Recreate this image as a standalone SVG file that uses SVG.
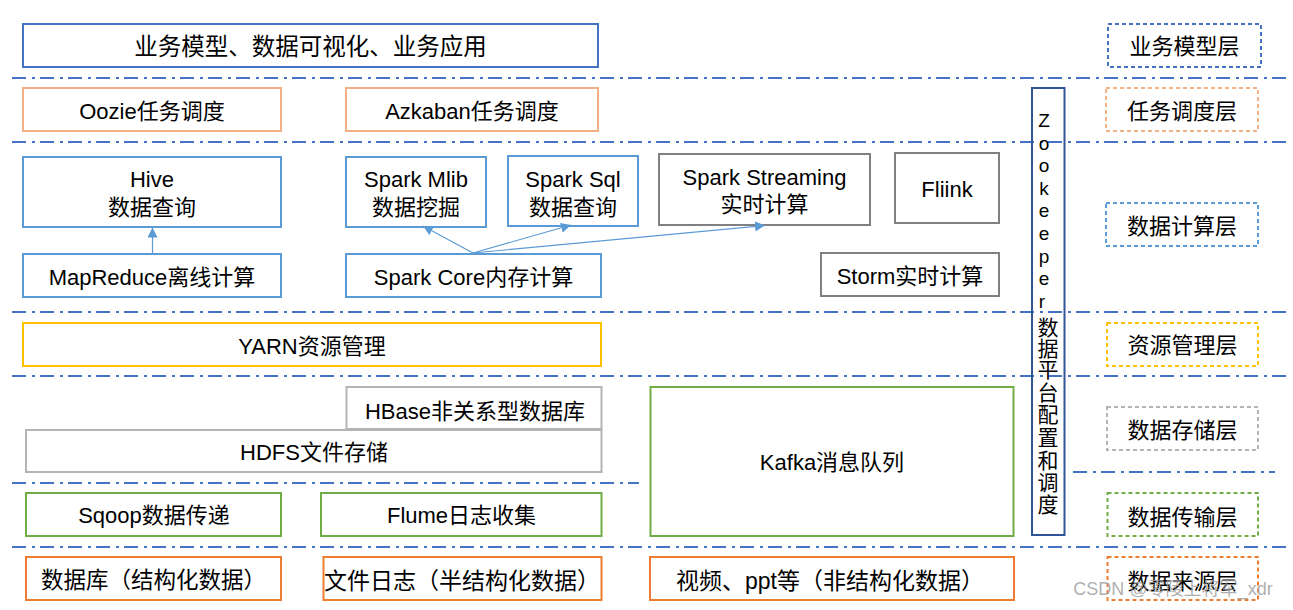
<svg xmlns="http://www.w3.org/2000/svg" width="1293" height="610" viewBox="0 0 1293 610">
<defs>
<style>
text{font-family:"Liberation Sans","Noto Sans CJK SC",sans-serif;font-size:22px;fill:#000;text-anchor:middle}
.box{fill:#fff;stroke-width:2}
.sep{stroke:#4472C4;stroke-width:2;stroke-dasharray:14 6 3 5;fill:none}
.layer{fill:#fff;stroke-width:2;stroke-dasharray:4 3}
.blue{stroke:#4472C4}.lblue{stroke:#5B9BD5}.peach{stroke:#F4B183}.gold{stroke:#FFC000}
.lgray{stroke:#B4B4B4}.dgray{stroke:#808080}.green{stroke:#70AD47}.orange{stroke:#ED7D31}
.conn{stroke:#5B9BD5;stroke-width:1.2;fill:none}
.zk{font-size:19px}
.zc{font-size:21px}
</style>
<marker id="arr" markerUnits="userSpaceOnUse" markerWidth="11" markerHeight="10" refX="10" refY="5" orient="auto">
<path d="M0,0 L10,5 L0,10 z" fill="#5B9BD5"/>
</marker>
</defs>
<rect width="1293" height="610" fill="#fff"/>
<g id="separators">
<line class="sep" x1="12" y1="78" x2="1287" y2="78"/>
<line class="sep" x1="12" y1="142" x2="1287" y2="142"/>
<line class="sep" x1="12" y1="312" x2="1287" y2="312"/>
<line class="sep" x1="12" y1="376" x2="1287" y2="376"/>
<line class="sep" x1="12" y1="483" x2="639" y2="483"/>
<line class="sep" x1="1073" y1="472" x2="1275" y2="472"/>
<line class="sep" x1="12" y1="547" x2="1287" y2="547"/>
</g>
<g id="n-top"><rect class="box blue" x="23" y="24" width="575" height="43"/><text x="310.5" y="55" style="font-size:23.5px">业务模型、数据可视化、业务应用</text></g>
<g id="n-oozie"><rect class="box peach" x="23" y="88" width="258" height="43"/><text x="152" y="118.5">Oozie任务调度</text></g>
<g id="n-azkaban"><rect class="box peach" x="346" y="88" width="252" height="43"/><text x="472" y="118.5">Azkaban任务调度</text></g>
<g id="n-hive"><rect class="box lblue" x="23" y="157" width="258" height="70"/><text x="152" y="187">Hive</text><text x="152" y="215">数据查询</text></g>
<g id="n-mapreduce"><rect class="box lblue" x="23" y="254" width="258" height="43"/><text x="152" y="284.5">MapReduce离线计算</text></g>
<g id="n-mlib"><rect class="box lblue" x="346" y="157" width="140" height="70"/><text x="416" y="187">Spark Mlib</text><text x="416" y="215">数据挖掘</text></g>
<g id="n-sql"><rect class="box lblue" x="508" y="156" width="130" height="70"/><text x="573" y="187">Spark Sql</text><text x="573" y="215">数据查询</text></g>
<g id="n-sparkcore"><rect class="box lblue" x="346" y="254" width="255" height="43"/><text x="473.5" y="284.5">Spark Core内存计算</text></g>
<g id="n-streaming"><rect class="box dgray" x="659" y="154" width="211" height="71"/><text x="764.5" y="184.5">Spark Streaming</text><text x="764.5" y="211.5">实时计算</text></g>
<g id="n-flink"><rect class="box dgray" x="895" y="153" width="104" height="70"/><text x="947" y="197">Fliink</text></g>
<g id="n-storm"><rect class="box dgray" x="821" y="253" width="178" height="43"/><text x="910" y="283.5">Storm实时计算</text></g>
<g id="n-yarn"><rect class="box gold" x="23" y="323" width="578" height="43"/><text x="312" y="353.5">YARN资源管理</text></g>
<g id="n-hbase"><rect class="box lgray" x="346.5" y="387" width="255" height="42"/><text x="475" y="418.5">HBase非关系型数据库</text></g>
<g id="n-hdfs"><rect class="box lgray" x="26" y="430" width="575.5" height="42"/><text x="314" y="460">HDFS文件存储</text></g>
<g id="n-sqoop"><rect class="box green" x="26" y="493" width="255" height="43"/><text x="154" y="522.5">Sqoop数据传递</text></g>
<g id="n-flume"><rect class="box green" x="321" y="493" width="280.5" height="43"/><text x="461.5" y="522.5">Flume日志收集</text></g>
<g id="n-kafka"><rect class="box green" x="650.5" y="387" width="363" height="149"/><text x="832" y="469.5">Kafka消息队列</text></g>
<g id="n-db"><rect class="box orange" x="26" y="557" width="255" height="43"/><text x="153.5" y="588" style="font-size:22.5px">数据库（结构化数据）</text></g>
<g id="n-filelog"><rect class="box orange" x="323.5" y="557" width="278" height="43"/><text x="462" y="588.5" style="font-size:23px">文件日志（半结构化数据）</text></g>
<g id="n-video"><rect class="box orange" x="650" y="557" width="364" height="43"/><text x="830" y="589" style="font-size:23px">视频、ppt等（非结构化数据）</text></g>
<g id="n-zookeeper">
<rect x="1032" y="88" width="32.5" height="447" fill="none" stroke="#2F5597" stroke-width="2"/>
<text class="zk" x="1044" y="127">Z</text>
<text class="zk" x="1044" y="149.5">o</text>
<text class="zk" x="1044" y="172">o</text>
<text class="zk" x="1044" y="194.7">k</text>
<text class="zk" x="1044" y="217.3">e</text>
<text class="zk" x="1044" y="240">e</text>
<text class="zk" x="1044" y="262.7">p</text>
<text class="zk" x="1044" y="285.3">e</text>
<text class="zk" x="1042" y="308">r</text>
<text class="zc" x="1048" y="334.5">数</text>
<text class="zc" x="1048" y="356">据</text>
<text class="zc" x="1048" y="377">平</text>
<text class="zc" x="1048" y="400">台</text>
<text class="zc" x="1048" y="422">配</text>
<text class="zc" x="1048" y="445">置</text>
<text class="zc" x="1048" y="468">和</text>
<text class="zc" x="1048" y="490">调</text>
<text class="zc" x="1048" y="511.5">度</text>
</g>
<g id="l-business"><rect class="layer blue" x="1108" y="24" width="153" height="43"/><text x="1184.5" y="54">业务模型层</text></g>
<g id="l-schedule"><rect class="layer peach" x="1106" y="88" width="152" height="43"/><text x="1182" y="118.5">任务调度层</text></g>
<g id="l-compute"><rect class="layer lblue" x="1106" y="203" width="152" height="43"/><text x="1182" y="233.5">数据计算层</text></g>
<g id="l-resource"><rect class="layer gold" x="1107" y="323" width="151" height="43"/><text x="1182.5" y="353">资源管理层</text></g>
<g id="l-storage"><rect class="layer lgray" x="1107" y="407" width="151" height="43"/><text x="1182.5" y="437.5">数据存储层</text></g>
<g id="l-transfer"><rect class="layer green" x="1107.5" y="493" width="150.5" height="43"/><text x="1182.5" y="524.5">数据传输层</text></g>
<g id="l-source"><rect class="layer orange" x="1107.5" y="557" width="150.5" height="43"/><text x="1182.5" y="589">数据来源层</text></g>
<g id="connectors">
<line class="conn" x1="152.5" y1="253" x2="152.5" y2="227.5" marker-end="url(#arr)"/>
<line class="conn" x1="473" y1="253" x2="423" y2="226" marker-end="url(#arr)"/>
<line class="conn" x1="473" y1="253" x2="571" y2="225" marker-end="url(#arr)"/>
<line class="conn" x1="473" y1="253" x2="765" y2="225.5" marker-end="url(#arr)"/>
</g>
<text x="1173" y="595" style="font-size:18px;fill:#9a9a9a;fill-opacity:0.8">CSDN @零陵上将军_xdr</text>
</svg>
